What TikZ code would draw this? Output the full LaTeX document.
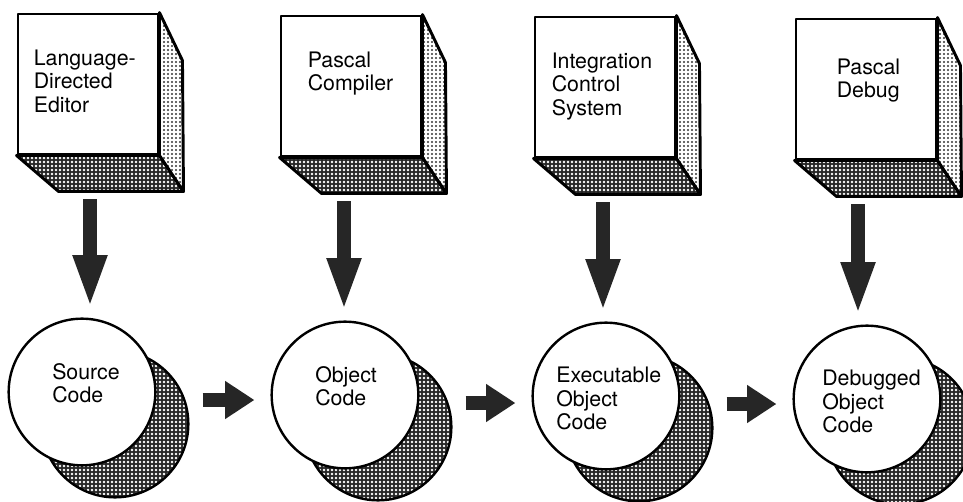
\documentclass[tikz,border=0pt]{standalone}
\usepackage{fontspec}
\setmainfont{TeX Gyre Heros}
\usepackage{tikz}
\usetikzlibrary{calc,arrows.meta,patterns,backgrounds}

\pgfdeclarepatternformonly{meshdots}{\pgfqpoint{-2pt}{-2pt}}{\pgfqpoint{2pt}{2pt}}{\pgfqpoint{3pt}{3pt}}{
  \pgfpathcircle{\pgfqpoint{0pt}{0pt}}{1.05pt}
  \pgfusepath{fill}}
\pgfdeclarepatternformonly{sidedots}{\pgfqpoint{-2pt}{-2pt}}{\pgfqpoint{2pt}{2pt}}{\pgfqpoint{3pt}{3pt}}{
  \pgfpathcircle{\pgfqpoint{0pt}{0pt}}{0.9pt}
  \pgfusepath{fill}}

\tikzset{
  toolbox/.style={draw, line width=2.2pt, line join=round, fill=white, minimum width=105pt, minimum height=105pt, inner sep=0pt},
  codecircle/.style={circle, draw, line width=1.8pt, fill=white, minimum size=110pt, inner sep=0pt},
  boxtext/.style={font=\fontsize{16}{17.6}\selectfont, align=left, inner sep=0pt, anchor=north west},
  darkface/.style={draw, line width=2.2pt, line join=round, preaction={fill=black!85}, pattern=meshdots, pattern color=white},
  lightface/.style={draw, line width=2.2pt, line join=round, preaction={fill=white}, pattern=sidedots, pattern color=black!80},
  downarrow/.style={draw=black!85, line width=10pt, -{Triangle[length=40pt,width=23pt]}},
  rightarrow/.style={draw=black!85, line width=11pt, -{Triangle[length=22pt,width=27pt]}}
}
\newcommand\toolfaces[1]{
  \draw[darkface] (#1.south west) -- (#1.south east) -- ++(24,36) -- ($(#1.south west)+(42,36)$) -- cycle;
  \draw[lightface] (#1.north east) -- ++(23,48) -- ($(#1.south east)+(24,36)$) -- (#1.south east) -- cycle;
}

\begin{document}
\begin{tikzpicture}[x=0.75pt, y=-0.75pt]
  \useasboundingbox (0,0) rectangle (963,502);

  \node[toolbox] (ed) at (88,84) {};
  \node[toolbox] (comp) at (351,86) {};
  \node[toolbox] (ics) at (605,87) {};
  \node[toolbox] (dbg) at (866,89) {};
  \foreach \b in {ed,comp,ics,dbg} \toolfaces{\b};

  \node[boxtext] (edtext) at ($(ed.north west)+(17,37)$) {Language-\\Directed\\Editor};
  \node[boxtext] (comptext) at ($(comp.north west)+(28,37)$) {Pascal\\Compiler};
  \node[boxtext] (icstext) at ($(ics.north west)+(18,37)$) {Integration\\Control\\System};
  \node[boxtext] (dbgtext) at ($(dbg.north west)+(42,41)$) {Pascal\\Debug};

  \node[codecircle] (src) at (82,392) {};
  \node[codecircle] (obj) at (345,395) {};
  \node[codecircle] (exe) at (606,396) {};
  \node[codecircle] (dbo) at (867,399) {};
  \begin{scope}[on background layer]
    \foreach \c in {src,obj,exe,dbo} \draw[darkface, line width=1.8pt] ($(\c)+(33,32)$) circle[radius=55pt];
  \end{scope}

  \node[boxtext] (srctext) at ($(src)+(-30,-29)$) {Source\\Code};
  \node[boxtext] (objtext) at ($(obj)+(-30,-29)$) {Object\\Code};
  \node[boxtext] (exetext) at ($(exe)+(-50,-29)$) {Executable\\Object\\Code};
  \node[boxtext] (dbotext) at ($(dbo)+(-45,-29)$) {Debugged\\Object\\Code};

  \foreach \b/\c/\dx in {ed/src/2, comp/obj/-7, ics/exe/-2, dbg/dbo/-8}
    \draw[downarrow] ($(\b.south)+(\dx,44)$) -- ($(\b.south |- \c.north)+(\dx,-9)$);
  \foreach \a/\b in {src/obj, obj/exe, exe/dbo}
    \draw[rightarrow] ($(\a.east)+(46,8)$) -- ($(\a.east -| \b.west)+(-16,8)$);
\end{tikzpicture}
\end{document}
